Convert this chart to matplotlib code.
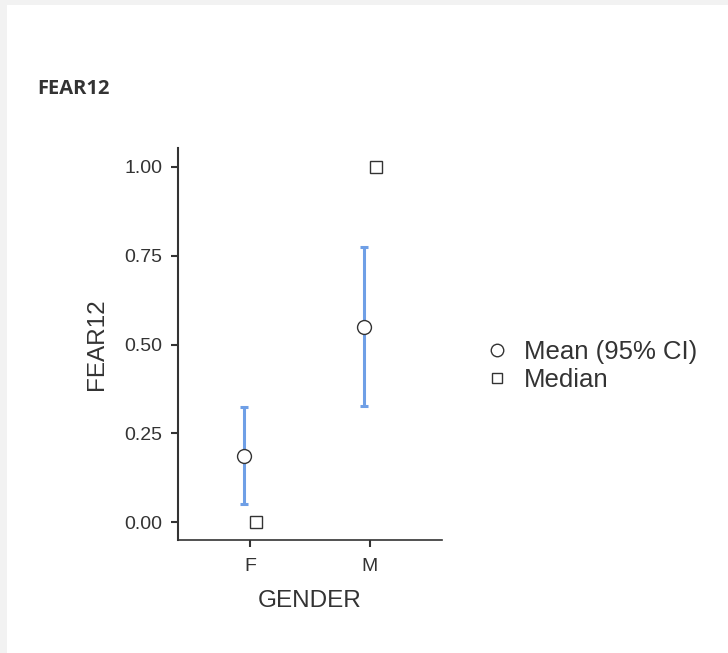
import numpy as np
import matplotlib
matplotlib.use("Agg")
import matplotlib.pyplot as plt
from matplotlib.patches import Rectangle

# data
groups = ["F", "M"]
means = [0.186, 0.549]
ci_low = [0.051, 0.327]
ci_high = [0.324, 0.775]
medians = [0.0, 1.0]
yticks = [0.00, 0.25, 0.50, 0.75, 1.00]

plt.rcParams['font.family'] = ['Liberation Sans', 'DejaVu Sans']

fig = plt.figure(figsize=(7.28, 6.53), dpi=100)
fig.patch.set_facecolor("#f2f2f2")
# white card with a thin grey edge on the top and left
fig.patches.append(Rectangle((7 / 728, 0), 1, 1 - 5 / 653, transform=fig.transFigure,
                             facecolor="white", edgecolor="none", zorder=-1))

fig.text(37 / 728, 1 - 89 / 653, "FEAR12", fontsize=14.5, fontweight="bold",
         color="#333333", family=["Open Sans", "DejaVu Sans"], va="center", ha="left")

ax = fig.add_axes([178 / 728, 1 - 540 / 653, (442 - 178) / 728, (540 - 148) / 653])
ax.set_facecolor("white")

x = np.arange(1, len(groups) + 1)
off = 0.05
yerr = [np.array(means) - np.array(ci_low), np.array(ci_high) - np.array(means)]
ax.errorbar(x - off, means, yerr=yerr, fmt="none", ecolor="#6f9fe6",
            elinewidth=2.2, capsize=3, capthick=2.2, zorder=2)
ax.plot(x - off, means, "o", ms=10, mfc="white", mec="#333333", mew=1.0,
        linestyle="none", zorder=3, label="Mean (95% CI)")
ax.plot(x + off, medians, "s", ms=8, mfc="white", mec="#333333", mew=1.0,
        linestyle="none", zorder=3, label="Median")

ax.set_xlim(0.4, 2.6)
ax.set_ylim(-0.05, 1.053)
ax.set_xticks(x)
ax.set_xticklabels(groups)
ax.set_yticks(yticks)
ax.set_yticklabels(["%.2f" % v for v in yticks])
ax.tick_params(labelsize=14, colors="#333333", length=5, width=1.5, pad=6)
ax.tick_params(axis="x", pad=8)
ax.set_xlabel("GENDER", fontsize=17.5, color="#333333", labelpad=11)
ax.set_ylabel("FEAR12", fontsize=17.5, color="#333333", labelpad=12)

for s in ["top", "right"]:
    ax.spines[s].set_visible(False)
ax.spines["left"].set_color("#333333")
ax.spines["left"].set_linewidth(1.5)
ax.spines["bottom"].set_color("#333333")
ax.spines["bottom"].set_linewidth(1.2)

leg = fig.legend(loc="center left", bbox_to_anchor=(461 / 728, 1 - 366 / 653),
                 frameon=False, fontsize=18.5, handletextpad=0.55,
                 labelspacing=0.12, handlelength=1.0)
for h in leg.legend_handles:
    h.set_markersize(9 if h.get_marker() == "o" else 7.5)
for t in leg.get_texts():
    t.set_color("#333333")

fig.savefig("out.png", dpi=100, facecolor=fig.get_facecolor())
